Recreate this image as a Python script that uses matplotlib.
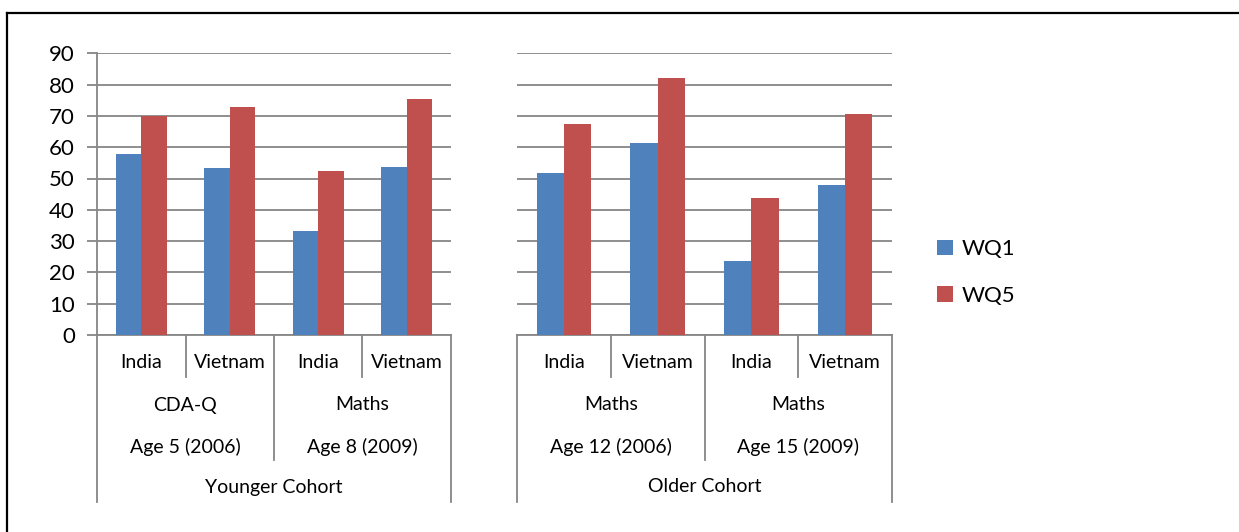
import numpy as np
import matplotlib
matplotlib.use("Agg")
import matplotlib.pyplot as plt
from matplotlib.lines import Line2D

plt.rcParams['font.family'] = ['Lato', 'DejaVu Sans']

# data
countries = ["India", "Vietnam", "India", "Vietnam"]
young_tests = ["CDA-Q", "Maths"]
young_ages = ["Age 5 (2006)", "Age 8 (2009)"]
old_tests = ["Maths", "Maths"]
old_ages = ["Age 12 (2006)", "Age 15 (2009)"]
cohorts = ["Younger Cohort", "Older Cohort"]

young_wq1 = [57.7, 53.5, 33.3, 53.8]
young_wq5 = [70.0, 72.7, 52.3, 75.4]
old_wq1 = [51.8, 61.5, 23.7, 48.0]
old_wq5 = [67.5, 82.1, 43.9, 70.7]

blue = "#4F81BD"
red = "#C0504D"
grid_c = "#868686"
lab_fs = 14

W, H = 1239, 532
fig = plt.figure(figsize=(W / 100, H / 100), dpi=100)

top_px, base_px = 53.3, 335
ax_h = base_px - top_px


def make_axes(x0, x1):
    return fig.add_axes([x0 / W, (H - base_px) / H, (x1 - x0) / W, ax_h / H])


def draw_panel(ax, wq1, wq5, tests, ages, cohort, show_y):
    x = np.arange(len(countries)) + 0.5
    bw = 0.29
    b1 = ax.bar(x - bw / 2, wq1, bw, color=blue, zorder=3, label="WQ1")
    b2 = ax.bar(x + bw / 2, wq5, bw, color=red, zorder=3, label="WQ5")
    ax.set_xlim(0, 4)
    ax.set_ylim(0, 90)
    ax.set_yticks(np.arange(0, 91, 10))
    ax.yaxis.grid(True, color=grid_c, lw=1.3, zorder=0)
    ax.set_xticks([])
    for s in ["top", "right"]:
        ax.spines[s].set_visible(False)
    ax.spines["bottom"].set_color(grid_c)
    ax.spines["bottom"].set_linewidth(1.3)
    if show_y:
        ax.spines["left"].set_color(grid_c)
        ax.spines["left"].set_linewidth(1.3)
        ax.tick_params(axis="y", direction="out", length=7, width=1.3,
                       color=grid_c, labelsize=16, pad=9)
    else:
        ax.spines["left"].set_visible(False)
        ax.tick_params(axis="y", length=0, labelleft=False)
    trans = ax.get_xaxis_transform()

    def depth(px):
        return -px / ax_h

    # separator lines under the axis
    for xb, d in [(1, 42), (3, 42), (2, 125), (0, 167), (4, 167)]:
        ax.add_line(Line2D([xb, xb], [0, depth(d)], transform=trans,
                           color=grid_c, lw=1.3, clip_on=False))
    for i, c in enumerate(countries):
        ax.text(i + 0.5, depth(28), c, transform=trans, ha="center",
                va="center", fontsize=lab_fs)
    for j in range(2):
        ax.text(2 * j + 1, depth(70), tests[j], transform=trans,
                ha="center", va="center", fontsize=lab_fs)
        ax.text(2 * j + 1, depth(112), ages[j], transform=trans,
                ha="center", va="center", fontsize=lab_fs)
    ax.text(2, depth(152), cohort, transform=trans, ha="center",
            va="center", fontsize=lab_fs)
    return b1, b2


ax1 = make_axes(97, 451)
ax2 = make_axes(517, 892)
b1, b2 = draw_panel(ax1, young_wq1, young_wq5, young_tests, young_ages,
                    cohorts[0], True)
draw_panel(ax2, old_wq1, old_wq5, old_tests, old_ages, cohorts[1], False)

fig.legend([b1, b2], ["WQ1", "WQ5"], loc="upper left",
           bbox_to_anchor=(926 / W, (H - 228) / H), frameon=False,
           fontsize=16, handlelength=0.7, handleheight=0.7,
           handletextpad=0.4, labelspacing=1.2, borderpad=0)

# outer border (top and left only visible)
fig.add_artist(Line2D([7 / W, 1], [1 - 13 / H, 1 - 13 / H],
                      transform=fig.transFigure, color="black", lw=1.6))
fig.add_artist(Line2D([7 / W, 7 / W], [0, 1 - 13 / H],
                      transform=fig.transFigure, color="black", lw=1.6))

fig.savefig("out.png", dpi=100)
